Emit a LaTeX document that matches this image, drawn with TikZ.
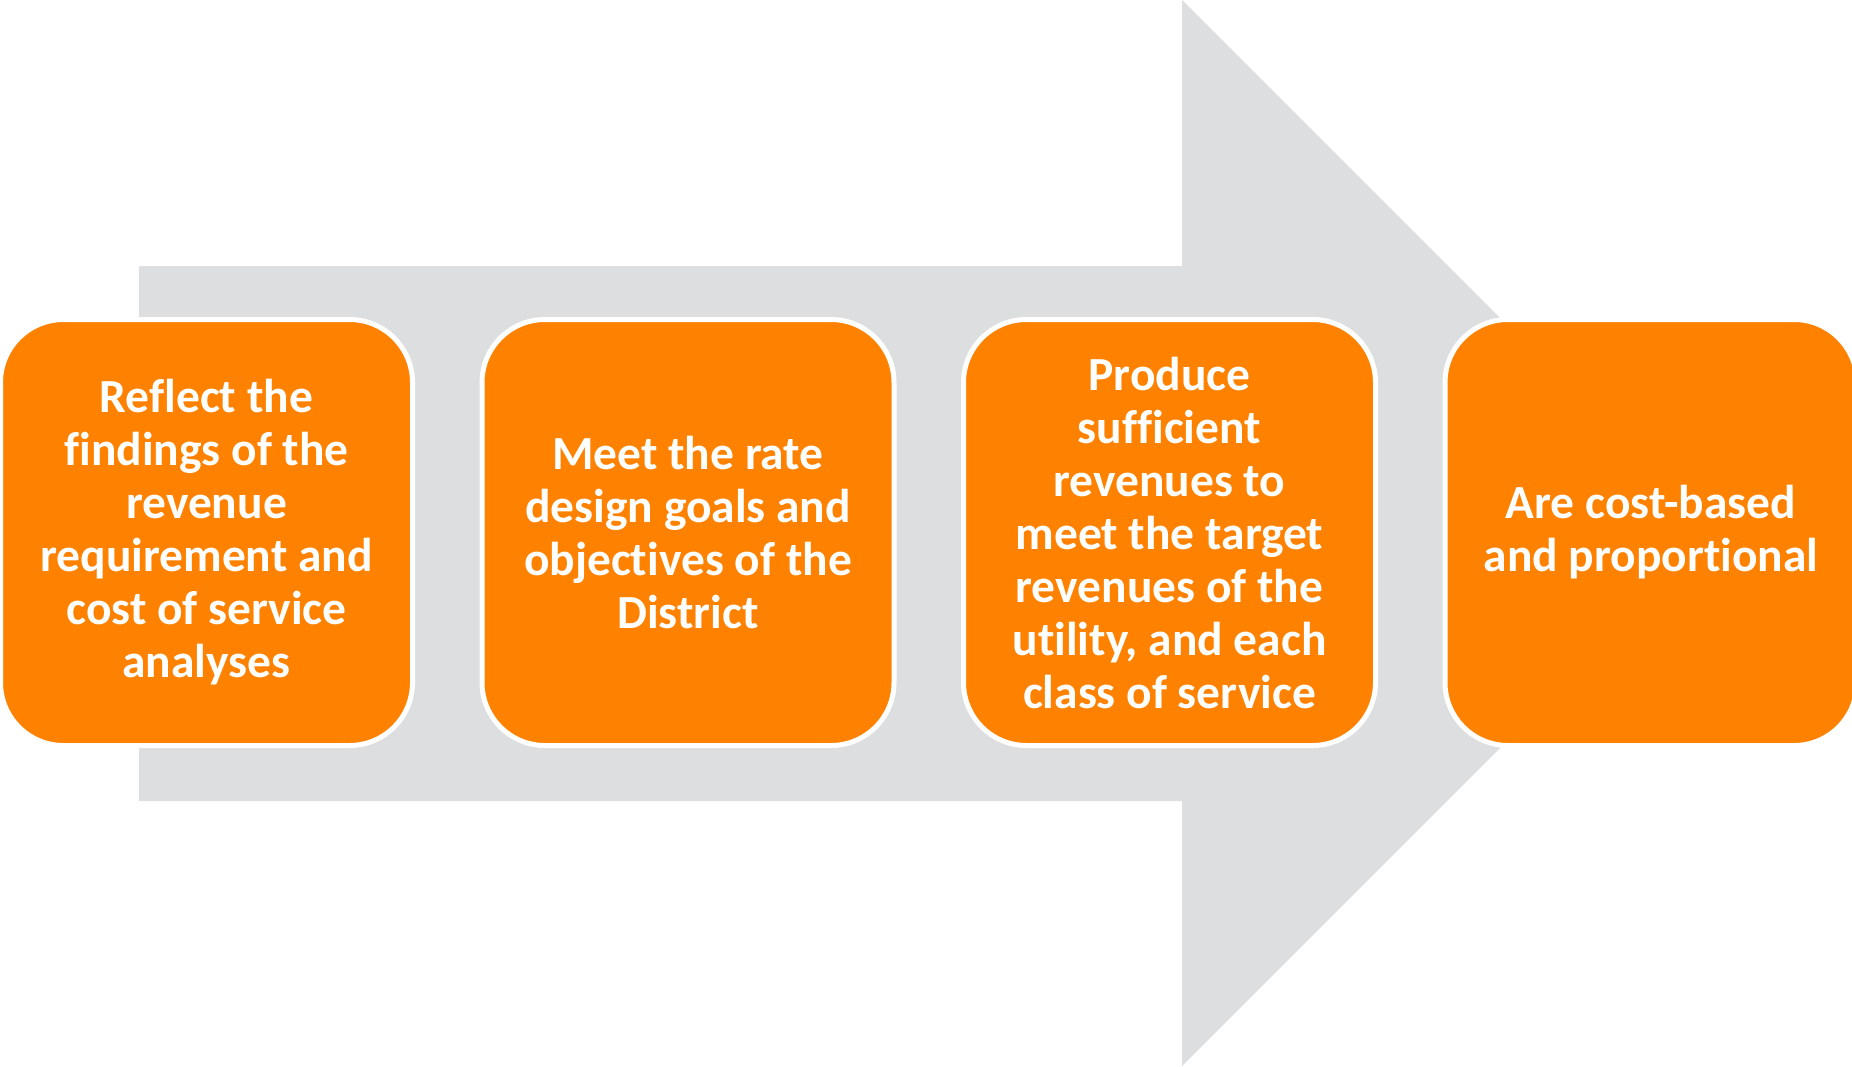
\documentclass[tikz,border=0pt]{standalone}
\usepackage{fontspec}
\setmainfont{Carlito}[Ligatures=NoCommon]
\definecolor{shaftgray}{RGB}{221,222,224}
\definecolor{stepfill}{RGB}{254,130,0}
\begin{document}
\begin{tikzpicture}[x=1pt,y=-1pt,
  stepbox/.style={draw=white, line width=5pt, fill=stepfill, rounded corners=63pt,
    minimum width=412pt, minimum height=426pt, inner sep=0pt, text=white,
    align=center, font=\fontsize{47.5}{53}\selectfont\bfseries}]
  \useasboundingbox (0,0) rectangle (1852,1066);
  \clip (0,0) rectangle (1852,1066);
  % big process arrow in the background
  \fill[shaftgray] (139,266) -- (1182,266) -- (1182,0) -- (1715,533)
    -- (1182,1066) -- (1182,801) -- (139,801) -- cycle;
  % the four steps
  \node[stepbox] (s1) at (206.5,532.5) {Reflect the\\findings of the\\revenue\\requirement and\\cost of service\\analyses};
  \node[stepbox] (s2) at (688,532.5) {Meet the rate\\design goals and\\objectives of the\\District};
  \node[stepbox] (s3) at (1169.5,532.5) {Produce\\sufficient\\revenues to\\meet the target\\revenues of the\\utility, and each\\class of service};
  \node[stepbox] (s4) at (1651,532.5) {Are cost-based\\and proportional};
\end{tikzpicture}
\end{document}
